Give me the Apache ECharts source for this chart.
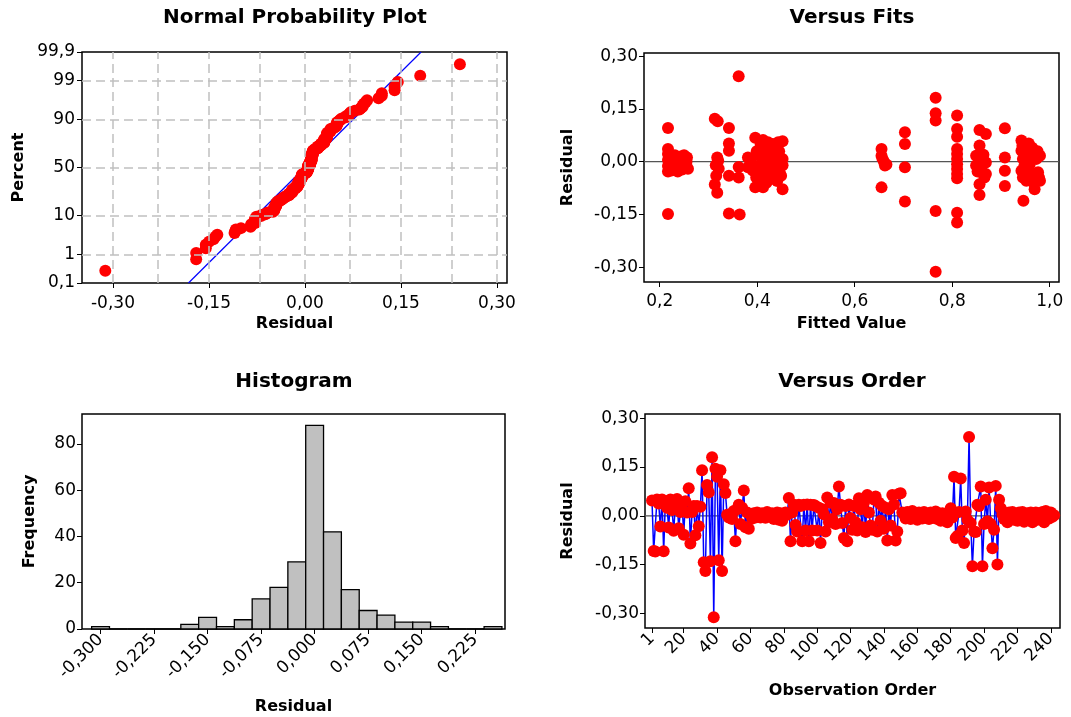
<!DOCTYPE html>
<html>
<head>
<meta charset="utf-8">
<script src="https://cdn.jsdelivr.net/npm/echarts@6.0.0/dist/echarts.min.js"></script>
<style>
  html, body { margin: 0; padding: 0; background: #ffffff; }
  #chart { width: 1071px; height: 717px; }
</style>
</head>
<body>
<div id="chart"></div>
<script>
// Residuals in observation order (1..242)
const residuals = [
  0.047, -0.108, -0.110, 0.050, 0.038, -0.033, 0.050, -0.109, 0.044, 0.025,
  -0.036, 0.050, 0.018, -0.046, 0.033, 0.052, -0.038, 0.012, 0.040, -0.058,
  0.045, 0.010, 0.085, -0.085, 0.012, 0.030, -0.060, 0.030, -0.032, 0.028,
  0.140, -0.143, -0.170, 0.095, 0.072, -0.140, 0.180, -0.312, 0.145, 0.120,
  -0.137, 0.140, -0.170, 0.097, 0.070, 0.003, -0.005, 0.005, -0.010, 0.015,
  -0.078, 0.020, 0.034, -0.025, 0.025, 0.078, -0.035, 0.010, -0.040, 0.005,
  -0.008, 0.008, -0.005, 0.010, 0.005, -0.005, 0.008, 0.002, -0.006, 0.012,
  0.005, -0.004, 0.008, -0.010, 0.004, 0.010, -0.012, 0.008, -0.015, 0.005,
  0.010, 0.003, 0.055, -0.078, 0.010, 0.034, -0.028, -0.048, 0.034, 0.030,
  -0.078, 0.034, -0.045, 0.035, -0.078, 0.034, -0.045, 0.033, 0.030, -0.045,
  0.025, -0.084, 0.020, 0.005, -0.048, 0.056, -0.020, 0.040, -0.010, 0.039,
  -0.025, 0.020, 0.090, 0.034, -0.022, -0.068, 0.030, -0.078, 0.035, -0.007,
  -0.043, 0.030, -0.020, -0.045, 0.054, 0.020, -0.035, 0.040, -0.050, 0.064,
  0.010, -0.030, -0.043, 0.050, 0.059, -0.048, 0.040, -0.015, 0.030, -0.040,
  0.025, -0.076, 0.020, -0.030, 0.064, 0.035, -0.076, -0.048, 0.068, 0.069,
  0.010, 0.005, -0.008, 0.012, 0.000, -0.010, 0.015, -0.005, 0.008, -0.012,
  0.010, 0.003, -0.008, 0.012, -0.004, 0.006, -0.010, 0.010, 0.000, -0.006,
  0.013, -0.010, 0.004, -0.015, 0.008, -0.005, 0.003, -0.020, 0.010, 0.023,
  -0.005, 0.120, -0.068, -0.062, 0.012, 0.115, -0.045, -0.084, 0.013, -0.012,
  0.242, -0.022, -0.155, -0.048, -0.050, 0.034, 0.030, 0.090, -0.155, -0.025,
  0.049, -0.017, 0.087, -0.025, -0.100, -0.043, 0.092, -0.150, 0.049, 0.023,
  0.005, -0.010, 0.008, -0.020, 0.010, -0.005, 0.012, -0.012, 0.003, -0.015,
  0.010, -0.005, 0.012, -0.018, 0.005, 0.008, -0.010, 0.010, -0.020, 0.005,
  0.010, -0.012, 0.008, -0.006, 0.012, -0.020, 0.015, 0.005, -0.008, 0.010,
  -0.003, 0.002
];

// Fitted values and their residuals (Versus Fits panel)
const fitValues = [
  0.217, 0.217, 0.217, 0.217, 0.217, 0.217, 0.217, 0.219, 0.221,
  0.226, 0.229, 0.232, 0.235, 0.238, 0.241, 0.244, 0.247, 0.250, 0.253, 0.256, 0.258,
  0.224, 0.231, 0.237, 0.243, 0.249, 0.255, 0.234, 0.246,
  0.313, 0.319, 0.318, 0.315, 0.316, 0.313, 0.318, 0.320, 0.321,
  0.342, 0.342, 0.342, 0.342, 0.342,
  0.362, 0.362, 0.362, 0.364,
  0.381, 0.381, 0.386, 0.396, 0.396, 0.398, 0.401, 0.404, 0.405, 0.408,
  0.412, 0.412, 0.414, 0.416, 0.418, 0.420, 0.423, 0.425, 0.427, 0.430,
  0.432, 0.434, 0.436, 0.438, 0.440, 0.443, 0.446, 0.452, 0.452, 0.452, 0.452,
  0.391, 0.399, 0.407, 0.410, 0.415, 0.419, 0.422, 0.428, 0.431, 0.437, 0.441, 0.445, 0.449,
  0.655, 0.655, 0.657, 0.660, 0.662, 0.665, 0.655,
  0.703, 0.703, 0.703, 0.703,
  0.766, 0.766, 0.766, 0.766, 0.766,
  0.810, 0.810, 0.810, 0.810, 0.810, 0.810, 0.810, 0.810, 0.810, 0.810, 0.810, 0.810,
  0.856, 0.869, 0.856, 0.849, 0.856, 0.862, 0.869, 0.849, 0.859, 0.869, 0.856, 0.856, 0.866,
  0.852, 0.864, 0.860,
  0.908, 0.908, 0.908, 0.908,
  0.942, 0.949, 0.956, 0.966, 0.976, 0.980, 0.942, 0.945, 0.942, 0.945,
  0.952, 0.966, 0.976, 0.980, 0.969, 0.973, 0.946, 0.959, 0.962, 0.950,
  0.944, 0.954, 0.958, 0.964, 0.970, 0.975, 0.948, 0.957, 0.968, 0.978
];
const fitResiduals = [
  0.096, 0.036, 0.022, 0.005, -0.012, -0.028, -0.149, 0.015, -0.020,
  0.010, -0.005, 0.012, -0.020, 0.008, 0.000, -0.015, 0.010, 0.018, -0.005, 0.012, -0.020,
  -0.025, 0.018, -0.028, 0.015, -0.010, 0.000, 0.005, -0.022,
  0.122, 0.115, 0.012, -0.010, -0.040, -0.065, -0.088, 0.003, -0.020,
  0.096, 0.052, 0.031, -0.040, -0.147,
  0.243, -0.015, -0.045, -0.150,
  0.012, -0.016, 0.000, 0.068, -0.073, -0.045, 0.020, -0.010, -0.030, 0.035,
  0.062, -0.073, 0.005, -0.020, 0.040, -0.045, 0.015, 0.030, -0.005, -0.035,
  0.050, 0.010, -0.050, 0.045, -0.015, 0.055, -0.030, 0.058, 0.008, -0.010, -0.078,
  -0.025, 0.030, 0.050, -0.055, 0.025, -0.060, 0.055, 0.040, -0.020, 0.020, -0.055, 0.030, -0.040,
  0.036, 0.017, 0.008, 0.000, -0.011, -0.008, -0.073,
  0.084, 0.050, -0.016, -0.113,
  0.182, 0.138, 0.117, -0.140, -0.313,
  0.131, 0.093, 0.071, 0.036, 0.022, 0.008, -0.007, -0.021, -0.035, -0.047, -0.145, -0.173,
  0.090, 0.079, 0.046, 0.017, 0.003, 0.012, -0.002, -0.011, -0.021, -0.035, -0.064, -0.095, -0.045,
  -0.028, 0.020, 0.008,
  0.095, 0.012, -0.026, -0.069,
  0.060, 0.050, 0.041, 0.031, 0.022, 0.017, 0.031, 0.008, -0.026, -0.045,
  -0.054, -0.035, -0.030, -0.054, -0.078, 0.008, -0.111, -0.007, 0.015, -0.020,
  0.045, 0.025, -0.040, 0.040, -0.050, 0.030, -0.012, 0.052, -0.062, -0.045
];

// Histogram bins (centre of each bin) and frequencies
const binCenters = [
  -0.300, -0.275, -0.250, -0.225, -0.200, -0.175, -0.150, -0.125, -0.100, -0.075,
  -0.050, -0.025, 0.000, 0.025, 0.050, 0.075, 0.100, 0.125, 0.150, 0.175,
  0.200, 0.225, 0.250
];
const binCounts = [
  1, 0, 0, 0, 0, 2, 5, 1, 4, 13,
  18, 29, 88, 42, 17, 8, 6, 3, 3, 1,
  0, 0, 1
];

// Tick positions and labels
const percentTicks = [0.1, 1, 10, 50, 90, 99, 99.9];
const percentLabels = ['0,1', '1', '10', '50', '90', '99', '99,9'];
const residualTicks = [-0.30, -0.15, 0, 0.15, 0.30];
const residualGridLines = [-0.30, -0.225, -0.15, -0.075, 0, 0.075, 0.15, 0.225, 0.30];
const histTicks = [-0.300, -0.225, -0.150, -0.075, 0, 0.075, 0.150, 0.225];
const freqTicks = [0, 20, 40, 60, 80];
const fitTicks = [0.2, 0.4, 0.6, 0.8, 1.0];
const orderTicks = [1, 20, 40, 60, 80, 100, 120, 140, 160, 180, 200, 220, 240];

const FONT = 'DejaVu Sans';
const RED = '#FF0000';
const BLUE = '#0000FF';

const comma = (v, d) => v.toFixed(d).replace('.', ',');

// Inverse standard normal CDF (Acklam's rational approximation)
function normInv(p) {
  const a = [-3.969683028665376e+01, 2.209460984245205e+02, -2.759285104469687e+02,
             1.383577518672690e+02, -3.066479806614716e+01, 2.506628277459239e+00];
  const b = [-5.447609879822406e+01, 1.615858368580409e+02, -1.556989798598866e+02,
             6.680131188771972e+01, -1.328068155288572e+01];
  const c = [-7.784894002430293e-03, -3.223964580411365e-01, -2.400758277161838e+00,
             -2.549732539343734e+00, 4.374664141464968e+00, 2.938163982698783e+00];
  const d = [7.784695709041462e-03, 3.224671290700398e-01, 2.445134137142996e+00,
             3.754408661907416e+00];
  const pl = 0.02425, ph = 1 - pl;
  let q, r;
  if (p < pl) {
    q = Math.sqrt(-2 * Math.log(p));
    return (((((c[0]*q+c[1])*q+c[2])*q+c[3])*q+c[4])*q+c[5]) / ((((d[0]*q+d[1])*q+d[2])*q+d[3])*q+1);
  }
  if (p <= ph) {
    q = p - 0.5; r = q * q;
    return (((((a[0]*r+a[1])*r+a[2])*r+a[3])*r+a[4])*r+a[5])*q / (((((b[0]*r+b[1])*r+b[2])*r+b[3])*r+b[4])*r+1);
  }
  q = Math.sqrt(-2 * Math.log(1 - p));
  return -(((((c[0]*q+c[1])*q+c[2])*q+c[3])*q+c[4])*q+c[5]) / ((((d[0]*q+d[1])*q+d[2])*q+d[3])*q+1);
}

// Normal probability plot: median ranks against sorted residuals
const n = residuals.length;
const sortedRes = residuals.slice().sort((x, y) => x - y);
const nppPoints = sortedRes.map((r, i) => [r, normInv((i + 1 - 0.3) / (n + 0.4))]);
const mean = residuals.reduce((s, v) => s + v, 0) / n;
const sd = Math.sqrt(residuals.reduce((s, v) => s + (v - mean) * (v - mean), 0) / (n - 1));
const zTicks = percentTicks.map(p => normInv(p / 100));
const zLo = zTicks[0], zHi = zTicks[zTicks.length - 1];
const fitLine = [[mean + zLo * sd, zLo], [mean + zHi * sd, zHi]];

const percentFmt = v => {
  let best = 0;
  zTicks.forEach((z, i) => { if (Math.abs(z - v) < Math.abs(zTicks[best] - v)) best = i; });
  return percentLabels[best];
};

function valueAxis(gridIndex, min, max, ticks, fmt, opts) {
  opts = opts || {};
  return {
    type: 'value', gridIndex: gridIndex, min: min, max: max, scale: true,
    axisLine: { show: false, onZero: false },
    axisTick: { show: true, customValues: ticks, length: 5, inside: false,
                lineStyle: { color: '#000', width: 1 } },
    axisLabel: { customValues: ticks, formatter: fmt, color: '#000', fontFamily: FONT,
                 fontSize: 17, margin: opts.margin || 8, rotate: opts.rotate || 0 },
    splitLine: { show: false },
    name: opts.name || '', nameLocation: 'middle', nameGap: opts.nameGap || 30,
    nameTextStyle: { color: '#000', fontFamily: FONT, fontSize: 16, fontWeight: 'bold' }
  };
}

const gridStyle = { show: true, borderColor: '#000', borderWidth: 1.5, backgroundColor: 'transparent' };
const titleStyle = { color: '#000', fontFamily: FONT, fontSize: 20, fontWeight: 'bold' };
const dotStyle = { color: RED, opacity: 1 };

// Axis extents
const nppX = [-0.3484, 0.3156];
const fitX = [0.1678, 1.019], fitY = [-0.342, 0.309];
const histX = [-0.326, 0.2668], histY = [0, 92.9];
const ordX = [-3.2, 245.5], ordY = [-0.345, 0.313];

const halfBin = (binCenters[1] - binCenters[0]) / 2;

const option = {
  animation: false,
  backgroundColor: '#ffffff',
  title: [
    { text: 'Normal Probability Plot', left: 295, top: 8, textAlign: 'center', textStyle: titleStyle, padding: 0 },
    { text: 'Versus Fits', left: 852, top: 8, textAlign: 'center', textStyle: titleStyle, padding: 0 },
    { text: 'Histogram', left: 294, top: 372, textAlign: 'center', textStyle: titleStyle, padding: 0 },
    { text: 'Versus Order', left: 852, top: 372, textAlign: 'center', textStyle: titleStyle, padding: 0 }
  ],
  grid: [
    Object.assign({ left: 82, top: 52, width: 425, height: 231 }, gridStyle),
    Object.assign({ left: 644, top: 53, width: 415, height: 229 }, gridStyle),
    Object.assign({ left: 82, top: 414, width: 423, height: 215 }, gridStyle),
    Object.assign({ left: 645, top: 414, width: 415, height: 214 }, gridStyle)
  ],
  xAxis: [
    valueAxis(0, nppX[0], nppX[1], residualTicks, v => comma(v, 2), { name: 'Residual', nameGap: 33, margin: 12 }),
    valueAxis(1, fitX[0], fitX[1], fitTicks, v => comma(v, 1), { name: 'Fitted Value', nameGap: 34, margin: 11 }),
    valueAxis(2, histX[0], histX[1], histTicks, v => comma(v, 3), { name: 'Residual', nameGap: 70, margin: 8, rotate: 45 }),
    valueAxis(3, ordX[0], ordX[1], orderTicks, v => String(v), { name: 'Observation Order', nameGap: 55, margin: 8, rotate: 45 })
  ],
  yAxis: [
    valueAxis(0, zLo, zHi, zTicks, percentFmt, { name: 'Percent', nameGap: 55, margin: 7 }),
    valueAxis(1, fitY[0], fitY[1], residualTicks, v => comma(v, 2), { name: 'Residual', nameGap: 68, margin: 6 }),
    valueAxis(2, histY[0], histY[1], freqTicks, v => String(v), { name: 'Frequency', nameGap: 44, margin: 6 }),
    valueAxis(3, ordY[0], ordY[1], residualTicks, v => comma(v, 2), { name: 'Residual', nameGap: 69, margin: 6 })
  ],
  series: [
    // Normal probability plot: reference grid and fitted normal line
    {
      type: 'line', xAxisIndex: 0, yAxisIndex: 0, z: 1,
      data: fitLine, showSymbol: false, symbol: 'none', silent: true,
      lineStyle: { color: BLUE, width: 1.2 },
      markLine: {
        silent: true, symbol: 'none', label: { show: false }, animation: false,
        lineStyle: { type: [9, 5], color: '#C0C0C0', width: 1.5 },
        emphasis: { disabled: true },
        data: residualGridLines.map(v => ({ xAxis: v }))
          .concat(zTicks.slice(1, -1).map(z => ({ yAxis: z })))
      }
    },
    {
      type: 'scatter', xAxisIndex: 0, yAxisIndex: 0, z: 3,
      data: nppPoints, symbol: 'circle', symbolSize: 12,
      itemStyle: dotStyle
    },
    // Versus fits
    {
      type: 'line', xAxisIndex: 1, yAxisIndex: 1, z: 1,
      data: [[fitX[0], 0], [fitX[1], 0]], symbol: 'none', silent: true,
      lineStyle: { color: '#555555', width: 1.2 }
    },
    {
      type: 'scatter', xAxisIndex: 1, yAxisIndex: 1, z: 3,
      data: fitValues.map((f, i) => [f, fitResiduals[i]]), symbol: 'circle', symbolSize: 12,
      itemStyle: dotStyle
    },
    // Histogram
    {
      type: 'custom', xAxisIndex: 2, yAxisIndex: 2, z: 2,
      data: binCenters.map((c, i) => [c, binCounts[i]]),
      encode: { x: 0, y: 1 },
      renderItem: function (params, api) {
        const c = api.value(0), cnt = api.value(1);
        const p0 = api.coord([c - halfBin, cnt]);
        const p1 = api.coord([c + halfBin, 0]);
        return {
          type: 'rect',
          shape: { x: p0[0], y: p0[1], width: p1[0] - p0[0], height: p1[1] - p0[1] },
          style: { fill: '#C0C0C0', stroke: '#000000', lineWidth: 1.3 }
        };
      }
    },
    // Versus order
    {
      type: 'line', xAxisIndex: 3, yAxisIndex: 3, z: 1,
      data: [[ordX[0], 0], [ordX[1], 0]], symbol: 'none', silent: true,
      lineStyle: { color: '#555555', width: 1.2 }
    },
    {
      type: 'line', xAxisIndex: 3, yAxisIndex: 3, z: 2,
      data: residuals.map((r, i) => [i + 1, r]), showSymbol: false, symbol: 'none',
      lineStyle: { color: BLUE, width: 1.5 }
    },
    {
      type: 'scatter', xAxisIndex: 3, yAxisIndex: 3, z: 3,
      data: residuals.map((r, i) => [i + 1, r]), symbol: 'circle', symbolSize: 12,
      itemStyle: dotStyle
    }
  ]
};

const chart = echarts.init(document.getElementById('chart'), null, { renderer: 'canvas' });
chart.setOption(option);
</script>
</body>
</html>
